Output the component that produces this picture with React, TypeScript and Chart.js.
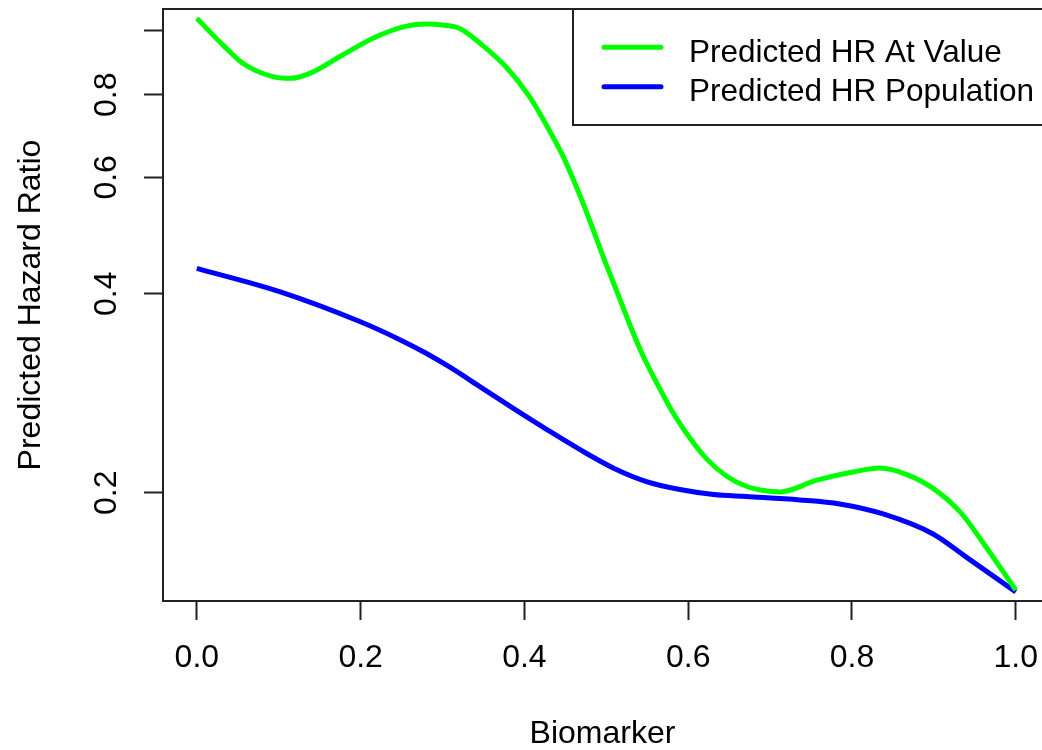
import React, { useEffect, useRef } from "react";
import { Chart, registerables } from "chart.js";

Chart.register(...registerables);

const FONT = "'Liberation Sans', Arial, Helvetica, sans-serif";

// Biomarker values and predicted hazard ratios
const biomarkerAtValue = [
  0, 0.032, 0.056, 0.093, 0.113, 0.138, 0.178, 0.219, 0.256, 0.28, 0.3, 0.321,
  0.346, 0.378, 0.407, 0.427, 0.448, 0.464, 0.48, 0.496, 0.513, 0.529, 0.545,
  0.562, 0.582, 0.602, 0.623, 0.647, 0.671, 0.692, 0.712, 0.757, 0.801, 0.834,
  0.867, 0.899, 0.932, 0.96, 1.0,
];
const hrAtValue = [
  1.044, 0.951, 0.893, 0.852, 0.847, 0.862, 0.919, 0.979, 1.016, 1.024, 1.02,
  1.008, 0.957, 0.8804, 0.7921, 0.7194, 0.6427, 0.5784, 0.5154, 0.4558, 0.403,
  0.3585, 0.322, 0.2926, 0.2636, 0.242, 0.2247, 0.2119, 0.2046, 0.2016, 0.2006,
  0.209, 0.215, 0.218, 0.2131, 0.2031, 0.1871, 0.1681, 0.1425,
];

const biomarkerPopulation = [
  0, 0.101, 0.199, 0.248, 0.28, 0.309, 0.346, 0.386, 0.427, 0.468, 0.509, 0.549,
  0.59, 0.631, 0.671, 0.736, 0.785, 0.838, 0.899, 0.94, 1.0,
];
const hrPopulation = [
  0.437, 0.4031, 0.3632, 0.3409, 0.3251, 0.3097, 0.2893, 0.2686, 0.2495, 0.2324,
  0.2179, 0.208, 0.2023, 0.1988, 0.1974, 0.1951, 0.1924, 0.1858, 0.1733, 0.1597,
  0.1416,
];

const seriesLabels = ["Predicted HR At Value", "Predicted HR Population"];
const seriesColors = ["#00ff00", "#0000ff"];

const xTickValues = [0, 0.2, 0.4, 0.6, 0.8, 1.0];
const xTickLabels = ["0.0", "0.2", "0.4", "0.6", "0.8", "1.0"];
const yTickValues = [0.2, 0.4, 0.6, 0.8, 1.0];
const yTickLabels = ["0.2", "0.4", "0.6", "0.8", ""];

const X_MIN = -0.0413;
const X_MAX = 1.032;
const Y_MIN = 0.1372;
const Y_MAX = 1.0785;

const AXIS_COLOR = "#222";

const rFrame = {
  id: "rFrame",
  afterDraw(chart: any) {
    const { ctx, chartArea: a } = chart;
    ctx.save();
    ctx.strokeStyle = AXIS_COLOR;
    ctx.lineWidth = 2;
    // top edge of plot box
    ctx.beginPath();
    ctx.moveTo(a.left - 1, a.top);
    ctx.lineTo(a.right + 20, a.top);
    ctx.stroke();
    // legend box
    const legLeft = 573;
    const legBottom = 125;
    ctx.beginPath();
    ctx.moveTo(a.right + 20, legBottom);
    ctx.lineTo(legLeft, legBottom);
    ctx.lineTo(legLeft, a.top);
    ctx.stroke();
    chart.data.datasets.forEach((ds: any, i: number) => {
      const y = 47.3 + i * 39.4;
      ctx.strokeStyle = ds.borderColor;
      ctx.lineWidth = 5;
      ctx.lineCap = "round";
      ctx.beginPath();
      ctx.moveTo(604, y);
      ctx.lineTo(661, y);
      ctx.stroke();
      ctx.fillStyle = "#000";
      ctx.font = `31.5px ${FONT}`;
      ctx.textAlign = "left";
      ctx.textBaseline = "alphabetic";
      ctx.fillText(ds.label, 689, y + 14.5);
    });
    ctx.restore();
  },
};

const zeroPadding = (s: any) => {
  s.paddingLeft = 0;
  s.paddingRight = 0;
  s.paddingTop = 0;
  s.paddingBottom = 0;
};

export default function App() {
  const ref = useRef<HTMLCanvasElement | null>(null);

  useEffect(() => {
    if (!ref.current) return;
    Chart.defaults.font.family = FONT;
    Chart.defaults.color = "#000";
    const chart = new Chart(ref.current, {
      type: "line",
      data: {
        datasets: [
          {
            label: seriesLabels[0],
            data: biomarkerAtValue.map((x, i) => ({ x, y: hrAtValue[i] })),
            borderColor: seriesColors[0],
            backgroundColor: seriesColors[0],
            borderWidth: 5,
            pointRadius: 0,
            cubicInterpolationMode: "monotone",
            fill: false,
          },
          {
            label: seriesLabels[1],
            data: biomarkerPopulation.map((x, i) => ({ x, y: hrPopulation[i] })),
            borderColor: seriesColors[1],
            backgroundColor: seriesColors[1],
            borderWidth: 5,
            pointRadius: 0,
            cubicInterpolationMode: "monotone",
            fill: false,
          },
        ],
      },
      options: {
        animation: false,
        responsive: false,
        devicePixelRatio: 1,
        layout: { padding: { top: 9, left: 0, right: 0, bottom: 0 } },
        plugins: { legend: { display: false }, tooltip: { enabled: false } },
        scales: {
          x: {
            type: "linear",
            min: X_MIN,
            max: X_MAX,
            afterBuildTicks: (s: any) => {
              s.ticks = xTickValues.map((v) => ({ value: v }));
            },
            afterFit: (s: any) => {
              s.height = 149;
              zeroPadding(s);
            },
            grid: {
              drawOnChartArea: false,
              drawTicks: true,
              tickLength: 19,
              tickWidth: 2,
              tickColor: AXIS_COLOR,
            },
            border: { display: true, color: AXIS_COLOR, width: 2 },
            ticks: {
              font: { size: 32 },
              color: "#000",
              padding: 19,
              maxRotation: 0,
              autoSkip: false,
              callback: (_v: any, i: number) => xTickLabels[i],
            },
            title: {
              display: true,
              text: "Biomarker",
              color: "#000",
              font: { size: 32, lineHeight: 1 },
              padding: 0,
            },
          },
          y: {
            type: "logarithmic",
            min: Y_MIN,
            max: Y_MAX,
            afterBuildTicks: (s: any) => {
              s.ticks = yTickValues.map((v) => ({ value: v }));
            },
            afterFit: (s: any) => {
              s.width = 163;
              zeroPadding(s);
            },
            grid: {
              drawOnChartArea: false,
              drawTicks: true,
              tickLength: 19,
              tickWidth: 2,
              tickColor: AXIS_COLOR,
            },
            border: { display: true, color: AXIS_COLOR, width: 2 },
            ticks: {
              font: { size: 32 },
              color: "#000",
              padding: 15,
              minRotation: 90,
              maxRotation: 90,
              crossAlign: "center",
              autoSkip: false,
              callback: (_v: any, i: number) => yTickLabels[i],
            },
            title: {
              display: true,
              text: "Predicted Hazard Ratio",
              color: "#000",
              font: { size: 32 },
              padding: { top: 12, bottom: 0 },
            },
          },
        },
      } as any,
      plugins: [rFrame],
    });
    return () => chart.destroy();
  }, []);

  return (
    <div style={{ position: "absolute", left: 0, top: 0, width: 1042, height: 750, background: "#fff" }}>
      <canvas ref={ref} width={1042} height={750} style={{ display: "block" }} />
    </div>
  );
}
